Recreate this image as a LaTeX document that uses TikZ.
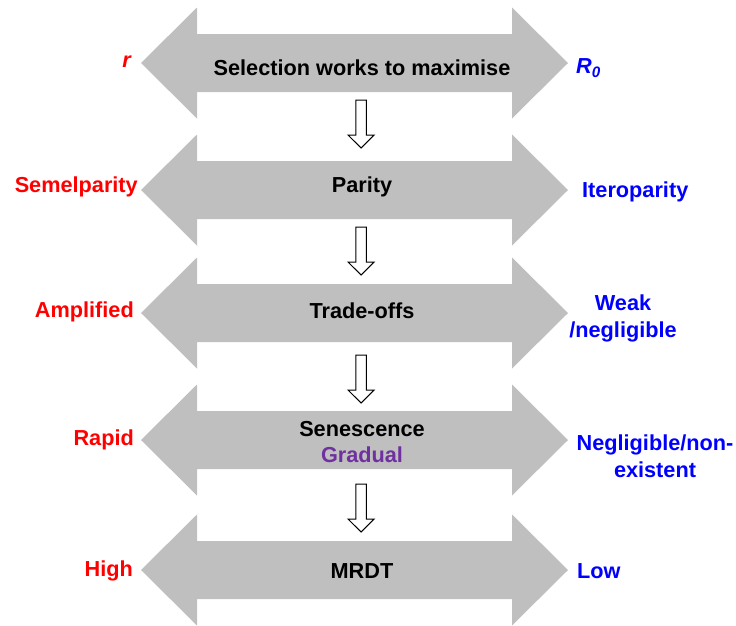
\documentclass[tikz,border=0pt]{standalone}
\usepackage{fontspec}
\setmainfont{Liberation Sans}
\definecolor{arrowgray}{RGB}{191,191,191}
\definecolor{lblred}{RGB}{255,0,0}
\definecolor{lblblue}{RGB}{0,0,255}
\definecolor{lblpurple}{RGB}{112,48,160}
\newcommand\bigarrowshape[1]{%
  \fill[arrowgray] (141,#1) -- (197,#1-55.5) -- (197,#1-29) -- (512,#1-29) -- (512,#1-55.5) -- (568,#1)
    -- (512,#1+55.5) -- (512,#1+29) -- (197,#1+29) -- (197,#1+55.5) -- cycle;}
\newcommand\downblock[1]{%
  \draw[downarr] (355.8,#1) -- (366.4,#1) -- (366.4,#1+35) -- (374.2,#1+35) -- (361.1,#1+48)
    -- (348,#1+35) -- (355.8,#1+35) -- cycle;}
\begin{document}
\begin{tikzpicture}[x=1pt,y=-1pt,
  lbl/.style={font=\fontsize{21.7}{27}\selectfont\bfseries, inner sep=0pt, align=center},
  mid/.style={lbl, text=black},
  lft/.style={lbl, text=lblred},
  rgt/.style={lbl, text=lblblue},
  downarr/.style={fill=white, draw=black, line width=1pt, line join=miter}]
\useasboundingbox (0,0) rectangle (736,625);
\bigarrowshape{63}
\bigarrowshape{190}
\bigarrowshape{313}
\bigarrowshape{440}
\bigarrowshape{570}
\downblock{100}
\downblock{227}
\downblock{355}
\downblock{484}
% centre texts
\node[mid] (t1) at (362,68) {Selection works to maximise};
\node[mid] (t2) at (362,187) {Parity};
\node[mid] (t3) at (362,311) {Trade-offs};
\node[mid] (t4) at (362,429) {Senescence};
\node[mid, text=lblpurple] (t4b) at (362,455) {Gradual};
\node[mid] (t5) at (362,571) {MRDT};
% left labels
\node[lft, anchor=east] (l1) at (131,62) {\itshape r};
\node[lft, anchor=east] (l2) at (138,187) {Semelparity};
\node[lft, anchor=east] (l3) at (134,312) {Amplified};
\node[lft, anchor=east] (l4) at (134,440) {Rapid};
\node[lft, anchor=east] (l5) at (133,571) {High};
% right labels
\node[rgt, anchor=west] (r1) at (576,68) {\itshape R\textsubscript{0}};
\node[rgt, anchor=west] (r2) at (582,192) {Iteroparity};
\node[rgt] (r3) at (623,318) {Weak\\/negligible};
\node[rgt] (r4) at (655,456) {Negligible/non-\\existent};
\node[rgt, anchor=west] (r5) at (577,571) {Low};
\end{tikzpicture}
\end{document}
